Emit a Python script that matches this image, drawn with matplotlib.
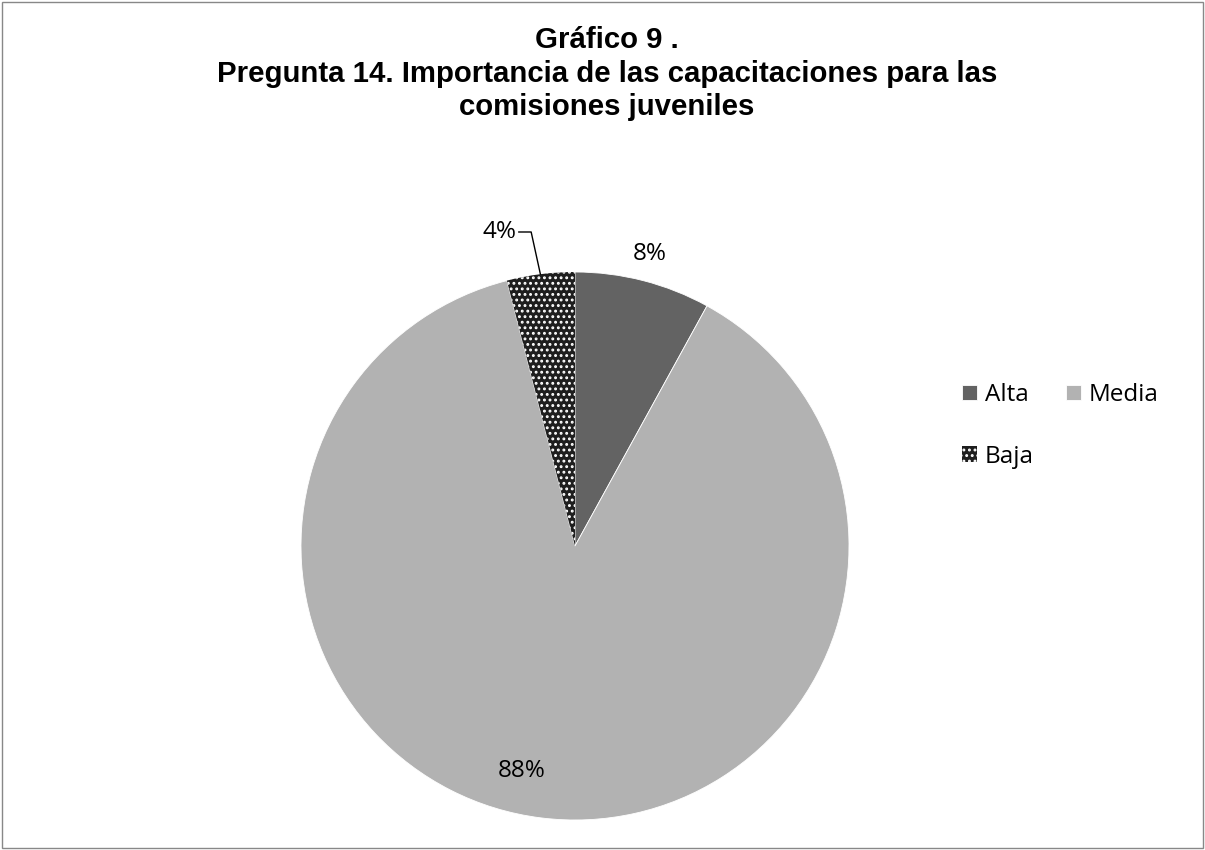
import numpy as np
import matplotlib.pyplot as plt
from matplotlib.patches import Rectangle

categorias = ["Alta", "Media", "Baja"]
porcentajes = [8, 88, 4]
colores = ["#636363", "#b2b2b2", "#1e1e1e"]
titulo = ["Gráfico 9 .",
          "Pregunta 14. Importancia de las capacitaciones para las",
          "comisiones juveniles"]

plt.rcParams["hatch.linewidth"] = 1.3

fig = plt.figure(figsize=(12.05, 8.5), dpi=100)
fig.patches.append(Rectangle((0.002, 0.002), 0.996, 0.996, transform=fig.transFigure,
                             fill=False, edgecolor="#888888", linewidth=1))

ax = fig.add_axes([301 / 1205, 30 / 850, 548 / 1205, 548 / 850])
wedges, _ = ax.pie(porcentajes, colors=colores, startangle=90, counterclock=False,
                   radius=1, wedgeprops=dict(linewidth=0.6, edgecolor="white"))
wedges[2].set_hatch("...")
wedges[2].set_edgecolor("white")
wedges[2].set_linewidth(0)
ax.set_xlim(-1, 1)
ax.set_ylim(-1, 1)
ax.set_aspect("equal")
ax.axis("off")

fuente = {"family": "Open Sans", "size": 17.5}

# etiquetas de porcentaje (posicion segun el angulo medio de cada porcion)
for w, p in zip(wedges, porcentajes):
    mid = (w.theta1 + w.theta2) / 2
    if p == 88:
        ang = np.deg2rad(mid - 6)
        r = 0.845
        ax.text(r * np.cos(ang), r * np.sin(ang), f"{p}%", ha="center", va="center",
                clip_on=False, **fuente)
    elif p == 8:
        ang = np.deg2rad(mid)
        r = 1.1
        ax.text(r * np.cos(ang), r * np.sin(ang), f"{p}%", ha="center", va="center",
                clip_on=False, **fuente)
    else:
        ang = np.deg2rad(mid)
        x0, y0 = 0.9 * np.cos(ang) * 1.12, np.sin(ang) * 1.0
        x1, y1 = -0.16, 1.146
        ax.plot([x0, x1, -0.205], [y0, y1, y1], color="black", linewidth=1, clip_on=False)
        ax.text(-0.212, y1, f"{p}%", ha="right", va="center", clip_on=False, **fuente)

handles = [wedges[0], wedges[2], wedges[1]]
labels = [categorias[0], categorias[2], categorias[1]]
leg = fig.legend(handles, labels, ncol=2, loc="upper left", bbox_to_anchor=(962 / 1205, 1 - 383 / 850),
                 frameon=False, prop={"family": "Open Sans", "size": 17.5},
                 handlelength=0.6, handleheight=0.6, handletextpad=0.33,
                 labelspacing=1.55, columnspacing=1.35, borderpad=0, borderaxespad=0)

# titulo: una linea por texto, tamaño ajustado al ancho de la linea larga (~779 px)
base_y = [48, 82, 115]
textos = [fig.text(607 / 1205, 1 - y / 850, t, ha="center", va="baseline", fontsize=20,
                   fontweight="bold", family="Liberation Sans") for t, y in zip(titulo, base_y)]
r = fig.canvas.get_renderer()
ancho = textos[1].get_window_extent(r).width
escala = 779 / ancho
for t in textos:
    t.set_fontsize(20 * escala)

fig.savefig("out.png", dpi=100)
